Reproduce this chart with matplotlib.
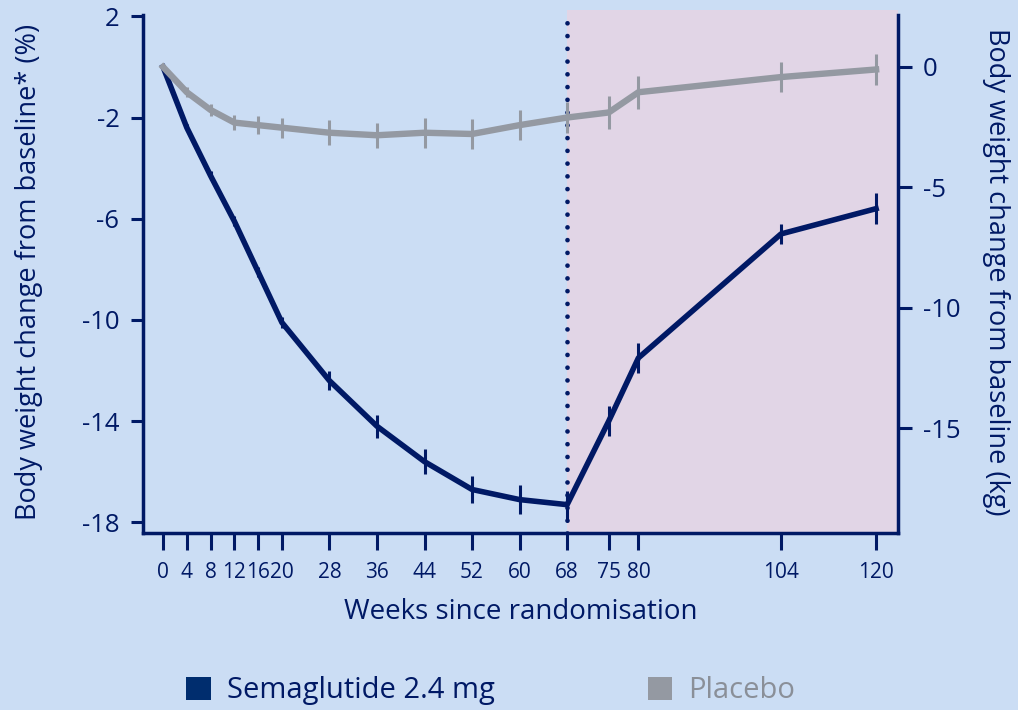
import matplotlib.pyplot as plt
from matplotlib.patches import Patch

plt.rcParams['font.family'] = ['Open Sans', 'DejaVu Sans']

weeks = [0, 4, 8, 12, 16, 20, 28, 36, 44, 52, 60, 68, 75, 80, 104, 120]
sema = [0.0, -2.4, -4.3, -6.1, -8.1, -10.1, -12.4, -14.2, -15.6, -16.7, -17.1, -17.3, -14.0, -11.5, -6.6, -5.6]
sema_err = [0.05, 0.15, 0.18, 0.2, 0.2, 0.2, 0.38, 0.45, 0.5, 0.54, 0.56, 0.55, 0.6, 0.6, 0.4, 0.6]
placebo = [0.0, -1.0, -1.7, -2.2, -2.3, -2.4, -2.6, -2.7, -2.6, -2.65, -2.3, -2.0, -1.8, -1.0, -0.4, -0.1]
placebo_err = [0.1, 0.2, 0.23, 0.3, 0.35, 0.4, 0.5, 0.5, 0.6, 0.6, 0.6, 0.6, 0.67, 0.65, 0.6, 0.6]

pct_ticks = [2, -2, -6, -10, -14, -18]
kg_ticks = [0, -5, -10, -15]
switch_week = 68

navy = '#001965'
grey = '#9499a2'
bg = '#cbddf4'
pink = '#e1d5e6'

fig = plt.figure(figsize=(10.18, 7.10), dpi=100, facecolor=bg)
ax = fig.add_axes([0.1405, 0.2493, 0.7417, 0.7366])
ax.set_facecolor(bg)

ymin, ymax = -18.42, 2.25
top = 2.05
xmin, xmax = -3.37, 123.7

ax.set_xlim(xmin, xmax)
ax.set_ylim(ymin, ymax)

# off-treatment extension period
ax.axvspan(switch_week, xmax, color=pink, zorder=0, lw=0)
ax.vlines(switch_week, ymin, top, colors=navy, linestyles=(0, (0.001, 2.7)),
          linewidth=3.4, capstyle='round', zorder=2)

ax.errorbar(weeks, sema, yerr=sema_err, color=navy, lw=4.0, elinewidth=2.2,
            capsize=0, zorder=3)
ax.errorbar(weeks, placebo, yerr=placebo_err, color=grey, lw=4.6, elinewidth=2.2,
            capsize=0, zorder=4)

ax.set_xticks(weeks)
ax.set_xticklabels([str(w) for w in weeks])
ax.set_yticks(pct_ticks)
ax.set_yticklabels([str(t) for t in pct_ticks])

for s in ['top', 'right']:
    ax.spines[s].set_visible(False)
for s in ['left', 'bottom']:
    ax.spines[s].set_color(navy)
    ax.spines[s].set_linewidth(2.5)
ax.spines['left'].set_bounds(ymin, top)

ax.tick_params(axis='x', colors=navy, length=12, width=2.2, labelsize=15, pad=9)
ax.tick_params(axis='y', colors=navy, length=9, width=2.2, labelsize=18.5, pad=8)

ax.set_xlabel('Weeks since randomisation', color=navy, fontsize=20, labelpad=11)
ax.set_ylabel('Body weight change from baseline* (%)', color=navy, fontsize=19.5)
ax.yaxis.set_label_coords(-0.132, 0.5)

# kg axis, zero aligned with the % axis
k = 25.3 / 24.1
ax2 = ax.twinx()
ax2.set_ylim(ymin * k, ymax * k)
ax2.set_yticks(kg_ticks)
ax2.set_yticklabels([str(t) for t in kg_ticks])
for s in ['top', 'left', 'bottom']:
    ax2.spines[s].set_visible(False)
ax2.spines['right'].set_color(navy)
ax2.spines['right'].set_linewidth(2.5)
ax2.spines['right'].set_bounds(ymin * k, top * k)
ax2.tick_params(axis='y', colors=navy, length=10, width=2.2, labelsize=18.5, pad=8)
ax2.set_ylabel('Body weight change from baseline (kg)', color=navy, fontsize=19.5,
               rotation=270, va='center')
ax2.yaxis.set_label_coords(1.13, 0.5)

handles = [Patch(facecolor='#002d6e', edgecolor='none', label='Semaglutide 2.4 mg'),
           Patch(facecolor=grey, edgecolor='none', label='Placebo')]
leg = fig.legend(handles=handles, loc='center left', bbox_to_anchor=(0.171, 0.027),
                 ncol=2, frameon=False, fontsize=21, handlelength=0.85, handleheight=0.85,
                 handletextpad=0.55, columnspacing=5.25, borderaxespad=0)
leg.get_texts()[0].set_color(navy)
leg.get_texts()[1].set_color('#8a8f98')

fig.savefig('out.png', dpi=100, facecolor=bg)
